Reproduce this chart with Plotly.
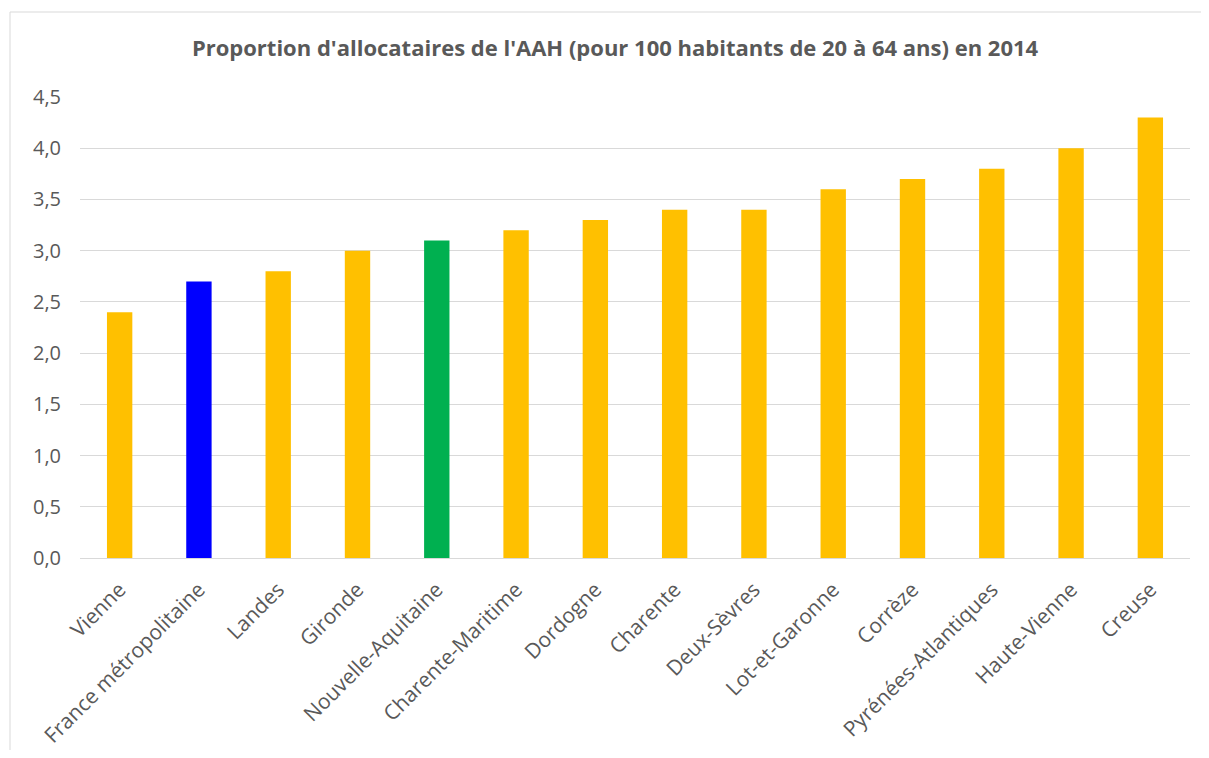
import plotly.graph_objects as go

categories = ["Vienne", "France métropolitaine", "Landes", "Gironde", "Nouvelle-Aquitaine",
              "Charente-Maritime", "Dordogne", "Charente", "Deux-Sèvres", "Lot-et-Garonne",
              "Corrèze", "Pyrénées-Atlantiques", "Haute-Vienne", "Creuse"]
values = [2.4, 2.7, 2.8, 3.0, 3.1, 3.2, 3.3, 3.4, 3.4, 3.6, 3.7, 3.8, 4.0, 4.3]
colors = ["#FFC000", "#0000FF", "#FFC000", "#FFC000", "#00B050", "#FFC000", "#FFC000",
          "#FFC000", "#FFC000", "#FFC000", "#FFC000", "#FFC000", "#FFC000", "#FFC000"]
title = "Proportion d'allocataires de l'AAH (pour 100 habitants de 20 à 64 ans) en 2014"

fig = go.Figure(go.Bar(x=categories, y=values, marker=dict(color=colors, line=dict(width=0)),
                       hoverinfo="x+y"))

# page body has an 8px margin on every side: keep the figure inside the window
OFF = 8
W, H = 1209 - 2 * OFF, 758 - 2 * OFF
L, T = 80 - OFF, 97 - OFF
R = W - (1190 - OFF)
B = H - (558 - OFF)
pw, ph = W - L - R, H - T - B

bx = (10 - OFF - L) / pw          # left border, paper units
by = (H - B - (12 - OFF)) / ph    # top border, paper units

fig.update_layout(
    width=W, height=H,
    margin=dict(l=L, r=R, t=T, b=B, autoexpand=False),
    paper_bgcolor="white", plot_bgcolor="white",
    separators=", ",
    bargap=0.68,
    font=dict(family="Open Sans, sans-serif", color="#595959", size=20),
    title=dict(text="<b>" + title + "</b>", x=(615 - OFF) / W, xanchor="center",
               y=1 - (48 - OFF) / H, yanchor="middle", font=dict(size=22, color="#595959")),
    showlegend=False,
    xaxis=dict(tickangle=-45, showgrid=False, showline=True, linecolor="#d9d9d9", linewidth=1,
               ticks="", tickfont=dict(size=21, color="#595959"), ticklabelstandoff=10,
               automargin=False),
    yaxis=dict(range=[0, 4.5], dtick=0.5, tickformat=".1f", showgrid=True, gridcolor="#d9d9d9",
               gridwidth=1, zeroline=False, showline=False, ticks="",
               tickfont=dict(size=20, color="#595959"), ticklabelstandoff=18,
               automargin=False),
    shapes=[
        dict(type="line", xref="paper", yref="paper", x0=bx, x1=(W + 60 - L) / pw, y0=by, y1=by,
             line=dict(color="#d9d9d9", width=1), layer="below"),
        dict(type="line", xref="paper", yref="paper", x0=bx, x1=bx, y0=by,
             y1=-(H + 60 - (H - B)) / ph, line=dict(color="#d9d9d9", width=1), layer="below"),
    ],
)

fig.write_html("out.html")
